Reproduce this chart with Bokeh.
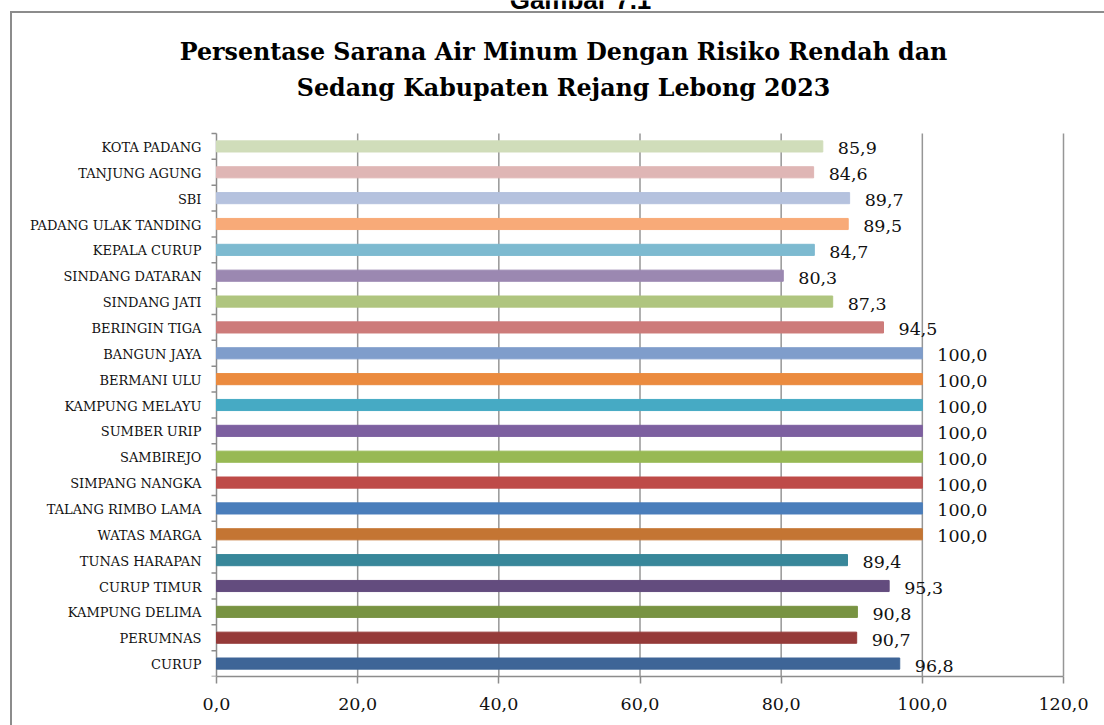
import math
from bokeh.plotting import figure
from bokeh.models import ColumnDataSource, Range1d, FixedTicker, Label
from bokeh.core.properties import value
from bokeh.embed import file_html
from bokeh.resources import INLINE

# ---- data (bottom to top) ----
categories = ["CURUP", "PERUMNAS", "KAMPUNG DELIMA", "CURUP TIMUR", "TUNAS HARAPAN",
              "WATAS MARGA", "TALANG RIMBO LAMA", "SIMPANG NANGKA", "SAMBIREJO",
              "SUMBER URIP", "KAMPUNG MELAYU", "BERMANI ULU", "BANGUN JAYA",
              "BERINGIN TIGA", "SINDANG JATI", "SINDANG DATARAN", "KEPALA CURUP",
              "PADANG ULAK TANDING", "SBI", "TANJUNG AGUNG", "KOTA PADANG"]
values = [96.8, 90.7, 90.8, 95.3, 89.4, 100.0, 100.0, 100.0, 100.0, 100.0, 100.0,
          100.0, 100.0, 94.5, 87.3, 80.3, 84.7, 89.5, 89.7, 84.6, 85.9]
colors = ["#3E6597", "#953A39", "#789342", "#634C7E", "#38879A", "#C47533", "#4A7EBB",
          "#BE4B48", "#98B954", "#7D60A0", "#46AAC4", "#EB8B3F", "#7F9DCB", "#CD7B7A",
          "#AFC57F", "#9B88B1", "#7DBAD0", "#F8AA78", "#B5C2DE", "#DFB6B5", "#D0DDBA"]
x_ticks = [0, 20, 40, 60, 80, 100, 120]
x_tick_labels = ["0,0", "20,0", "40,0", "60,0", "80,0", "100,0", "120,0"]
title_lines = ["Persentase Sarana Air Minum Dengan Risiko Rendah dan",
               "Sedang Kabupaten Rejang Lebong 2023"]
caption = "Gambar 7.1"

# ---- layout (pixels) ----
W, H = 1104, 725
PL, PR, PT, PB = 216, 1063, 133, 676       # plotting area of the bars
n = len(categories)
XMIN, XMAX = x_ticks[0], x_ticks[-1]
sx = (PR - PL) / (XMAX - XMIN)             # px per x unit
sy = (PB - PT) / n                         # px per category
def px2x(px): return XMIN + (px - PL) / sx
def py2y(py): return -0.5 + (PB - py) / sy

GREY = "#8c8c8c"
ypos = list(range(n))
labels = [f"{v:.1f}".replace(".", ",") for v in values]
src = ColumnDataSource(dict(y=ypos, v=values, c=colors, lbl=labels, cat=categories,
                            x0=[XMIN] * n))

p = figure(width=W, height=H, output_backend="svg", toolbar_location=None,
           x_range=Range1d(px2x(0), px2x(W)), y_range=Range1d(-0.5, py2y(0)),
           y_axis_location=None,
           min_border_left=0, min_border_right=0, min_border_top=0,
           min_border_bottom=H - PB,
           styles={"background-image": f"linear-gradient({GREY},{GREY}), linear-gradient({GREY},{GREY})",
                   "background-size": "2px 100%, 100% 2px",
                   "background-position": "10px 11px, 10px 11px",
                   "background-repeat": "no-repeat"})
p.outline_line_color = None
p.background_fill_color = None
p.border_fill_color = None
p.xgrid.grid_line_color = None
p.ygrid.grid_line_color = None

# vertical gridlines (only across the bar area)
gx = x_ticks[1:]
p.segment(x0=gx, x1=gx, y0=[-0.5] * len(gx), y1=[n - 0.5] * len(gx),
          line_color="#969696", line_width=1.5)
# category axis line and boundary ticks
p.segment(x0=[XMIN], x1=[XMIN], y0=[-0.5], y1=[n - 0.5], line_color=GREY, line_width=1.5)
bounds = [i - 0.5 for i in range(n + 1)]
p.ray(x=[XMIN] * len(bounds), y=bounds, length=5, length_units="screen", angle=math.pi,
      line_color=GREY, line_width=1.5)

# bars and value labels
p.hbar(y="y", right="v", left="x0", height=0.43, color="c", source=src)
p.text(x="v", y="y", text="lbl", source=src, x_offset=15, y_offset=2,
       text_baseline="middle", text_align="left",
       text_font=value("DejaVu Serif"), text_font_size="17.5px", text_color="#111111")
# category labels
p.text(x="x0", y="y", text="cat", source=src, x_offset=-15, y_offset=1,
       text_baseline="middle", text_align="right",
       text_font=value("DejaVu Serif"), text_font_size="13px", text_color="#111111")

# x axis
xa = p.xaxis[0]
xa.bounds = (XMIN, XMAX)
xa.ticker = FixedTicker(ticks=x_ticks)
xa.major_label_overrides = {t: l for t, l in zip(x_ticks, x_tick_labels)}
xa.major_label_text_font = "DejaVu Serif"
xa.major_label_text_font_size = "17.5px"
xa.major_label_text_color = "#111111"
xa.axis_line_color = GREY
xa.axis_line_width = 1.5
xa.major_tick_line_color = GREY
xa.major_tick_line_width = 1.5
xa.major_tick_out = 7
xa.major_tick_in = 0
xa.minor_tick_line_color = None
xa.major_label_standoff = 14

# titles (labels render ~8px below their anchor, compensate)
SHIFT = 8
TX = px2x(563)
p.add_layout(Label(x=TX, y=py2y(59 - SHIFT), text=title_lines[0],
                   text_align="center", text_baseline="alphabetic",
                   text_font="DejaVu Serif", text_font_style="bold",
                   text_font_size="23.75px", text_color="#000000"))
p.add_layout(Label(x=TX, y=py2y(95 - SHIFT), text=title_lines[1],
                   text_align="center", text_baseline="alphabetic",
                   text_font="DejaVu Serif", text_font_style="bold",
                   text_font_size="23.75px", text_color="#000000"))
p.add_layout(Label(x=px2x(580), y=py2y(7 - SHIFT), text=caption,
                   text_align="center", text_baseline="alphabetic",
                   text_font="Liberation Sans", text_font_style="bold",
                   text_font_size="26px", text_color="#000000"))

open("out.html", "w").write(file_html(p, INLINE))
